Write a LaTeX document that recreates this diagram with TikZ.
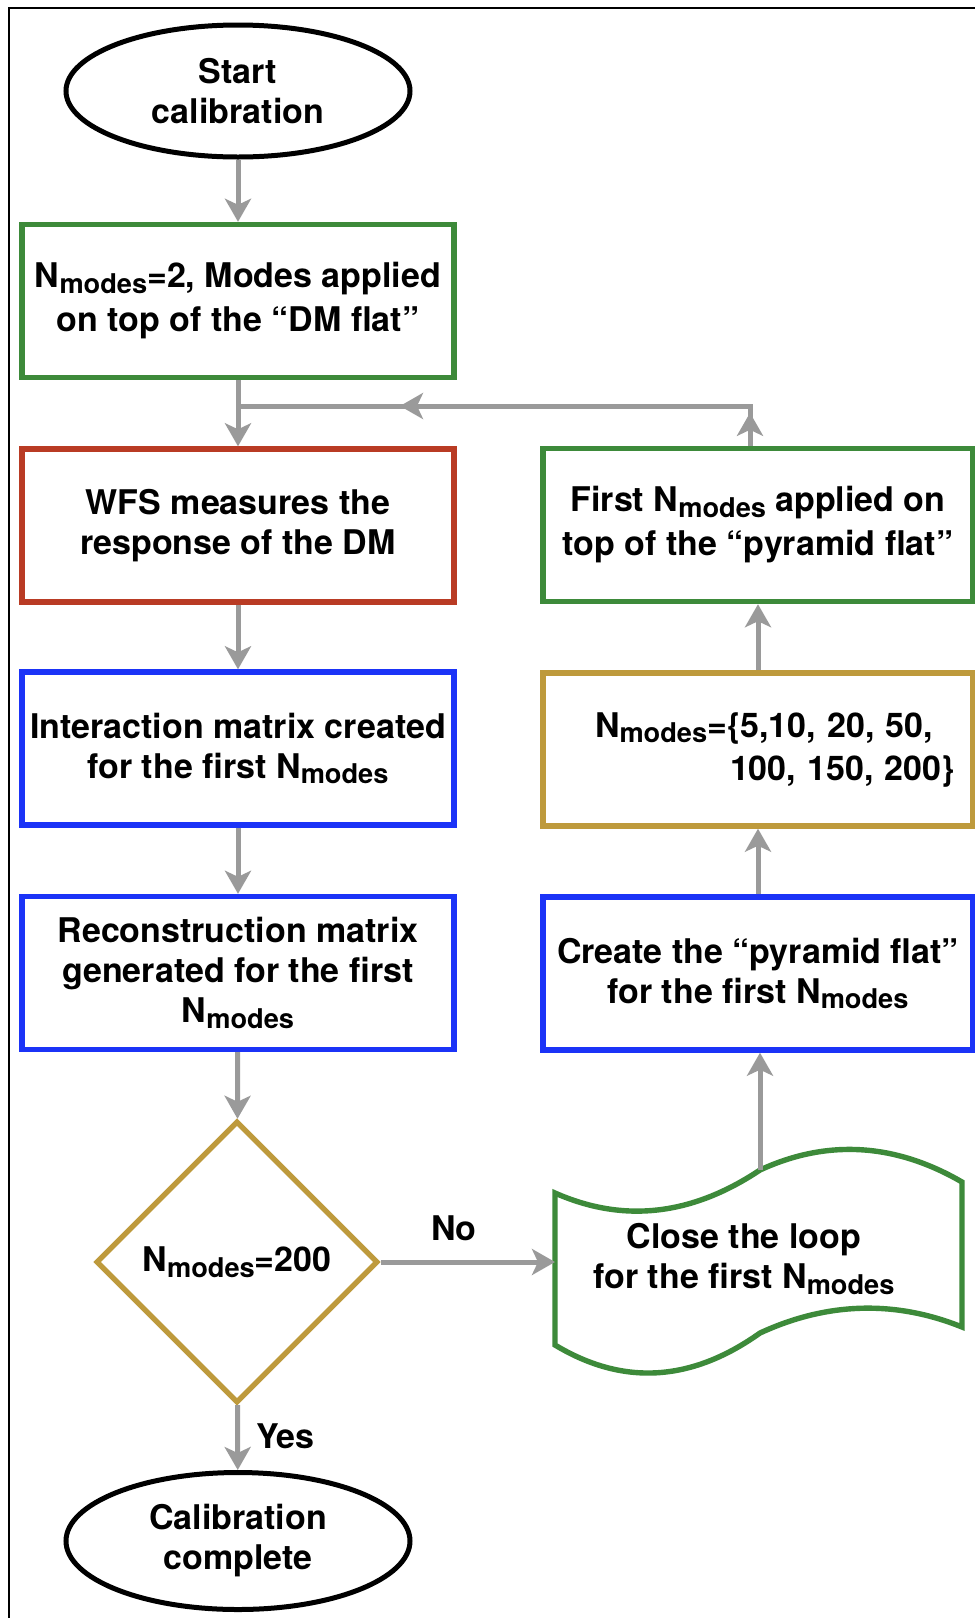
\documentclass[tikz,border=0pt]{standalone}
\usepackage{fontspec}
\setmainfont{TeX Gyre Heros}
\usetikzlibrary{arrows.meta, shapes.geometric}

% N with its "modes" subscript
\newcommand{\Nm}{N{\fontsize{13.6pt}{13.6pt}\selectfont\raisebox{-2.9pt}{modes}}}

\begin{document}
\begin{tikzpicture}[
    x=0.5pt, y=-0.5pt,
    every node/.style={font=\fontsize{17pt}{20pt}\selectfont\bfseries},
]

% ---------------------------------------------------------------- colours
\definecolor{cgreen}{HTML}{3D8A3A}   % set the modes
\definecolor{cred}{HTML}{B93B24}     % measurement
\definecolor{cblue}{HTML}{1B33F7}    % matrices / flats
\definecolor{cgold}{HTML}{BE9A3C}    % mode counts
\definecolor{cgrey}{HTML}{9A9A9A}    % connectors

\tikzset{
    box/.style={rectangle, draw, line width=2.7pt, fill=white, align=center,
                minimum height=76.5pt, inner sep=0pt},
    lbox/.style={box, minimum width=216pt},
    rbox/.style={box, minimum width=215pt},
    term/.style={ellipse, draw=black, line width=2.5pt, minimum width=172pt,
                 minimum height=66pt, inner sep=0pt, align=center},
    flow/.style={draw=cgrey, line width=2.5pt,
                 -{Stealth[length=11.5pt, width=13pt, inset=3pt]}},
    link/.style={draw=cgrey, line width=2.5pt},
}

\path[use as bounding box, clip] (0,0) rectangle (975,1618);
\fill[white] (0,0) rectangle (975,1618);

% frame
\draw[line width=1pt] (9,1640) |- (1000,7.5);

% ----------------------------------------------------------------------
% left column: calibration chain
% ----------------------------------------------------------------------
\node[term] (start) at (238,91) {Start\\calibration};
\node[lbox, draw=cgreen] (init) at (238,301)
    {\Nm=2, Modes applied\\[2pt]on top of the “DM flat”};
\node[lbox, draw=cred] (wfs) at (238,525.5)
    {WFS measures the\\response of the DM};
\node[lbox, draw=cblue] (imat) at (238,748.5)
    {Interaction matrix created\\for the first \Nm};
\node[lbox, draw=cblue] (rmat) at (238,973)
    {Reconstruction matrix\\generated for the first\\\Nm};
\node[diamond, aspect=1, draw=cgold, line width=2.7pt, minimum width=141pt,
      minimum height=141pt, inner sep=0pt] (check) at (237,1262) {\Nm=200};
\node[term, minimum height=68.5pt] (done) at (238,1541)
    {Calibration\\complete};

% ----------------------------------------------------------------------
% right column: closing the loop
% ----------------------------------------------------------------------
\node[rbox, draw=cgreen] (firstN) at (758,525)
    {First \Nm\ applied on\\[2pt]top of the “pyramid flat”};
\node[rbox, draw=cgold, text width=215pt, align=left] (steps) at (758,749.5)
    {\hspace*{26pt}\Nm=\{5,10, 20, 50,\\[1.5pt] \hspace*{93.5pt}100, 150, 200\}};
\node[rbox, draw=cblue] (pyrflat) at (758,973.5)
    {Create the “pyramid flat”\\for the first \Nm};

% tape shaped step
\draw[cgreen, line width=2.7pt, fill=white]
    (555,1193) .. controls (623,1223) and (691,1216) .. (760,1170)
               .. controls (827,1139) and (895,1143) .. (962,1182)
    -- (962,1327) .. controls (895,1300) and (827,1302) .. (760,1333)
               .. controls (691,1382) and (623,1386) .. (555,1345) -- cycle;
\node[align=center] (closeloop) at (744,1259) {Close the loop\\for the first \Nm};
\coordinate (loopin) at (555,1262);
\coordinate (loopout) at (760,1170);

% ----------------------------------------------------------------------
% connectors
% ----------------------------------------------------------------------
\coordinate (joinL) at (238,406);
\coordinate (loopR) at (750,406);
\coordinate (looptip) at (400,406);

\draw[flow] (start) -- (init);
\draw[flow] (init) -- (wfs);
\draw[flow] (wfs) -- (imat);
\draw[flow] (imat) -- (rmat);
\draw[flow] (rmat) -- (check);
\draw[flow] (check) -- node[pos=0.42, above=9.5pt, inner sep=0pt] {No} (loopin);
\draw[flow] (check) -- node[pos=0.48, right=8pt, inner sep=0pt] {Yes} (done);

\draw[flow] (loopout) -- (loopout |- pyrflat.south);
\draw[flow] (pyrflat) -- (steps);
\draw[flow] (steps) -- (firstN);

% back to the top of the chain
\draw[link] ([xshift=-4pt]firstN.north) |- (joinL);
\draw[flow] ([xshift=-4pt]firstN.north) -- ++(0,-33);
\draw[flow] (loopR) -- (looptip);

\end{tikzpicture}
\end{document}
